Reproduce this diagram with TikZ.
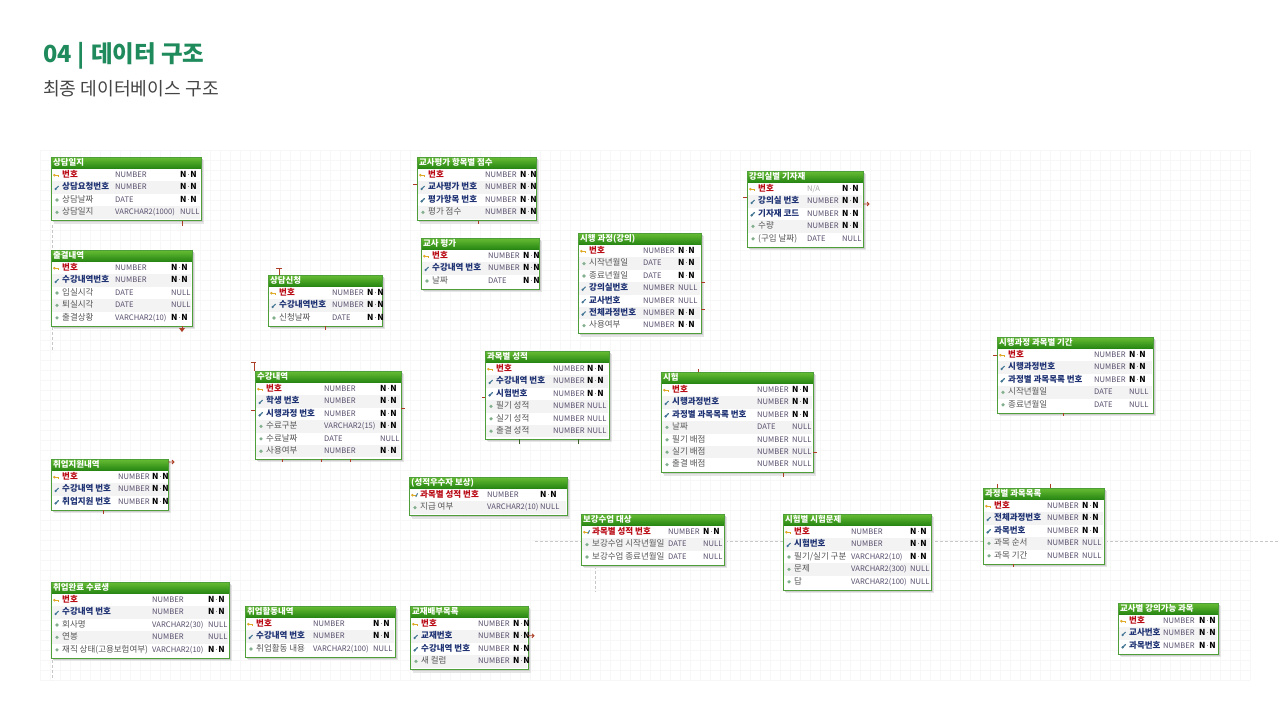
\documentclass[tikz,border=0pt]{standalone}
\usepackage{fontspec}
\setmainfont{Noto Sans CJK KR}
\definecolor{ttlgreen}{RGB}{31,138,92}
\definecolor{subgray}{RGB}{68,68,68}
\definecolor{hdrA}{RGB}{104,190,52}
\definecolor{hdrB}{RGB}{40,135,20}
\definecolor{tabgreen}{RGB}{78,158,58}
\definecolor{rowalt}{RGB}{243,243,243}
\definecolor{pkred}{RGB}{185,10,20}
\definecolor{fkblue}{RGB}{30,50,115}
\definecolor{atgray}{RGB}{85,85,85}
\definecolor{typec}{RGB}{88,78,108}
\definecolor{keygold}{RGB}{222,170,40}
\definecolor{cfk}{RGB}{70,120,150}
\definecolor{cat}{RGB}{130,175,140}
\definecolor{relred}{RGB}{172,62,40}
\definecolor{reldark}{RGB}{60,100,40}
\newcommand\erNN{{\color{black}\fontsize{8.3}{9}\selectfont\bfseries N{\mdseries\fontsize{7}{9}\selectfont·}N}}
\newcommand\ertab[8]{%
  \def\erName{#1}\def\erX{#2}\def\erY{#3}\def\erW{#4}\def\erT{#6}\def\erN{#7}%
  \pgfmathsetmacro\erH{14+12.4*#5}%
  \fill[black!10] ({#2+3},{#3+3}) rectangle ++(#4,\erH);
  \fill[black!20] ({#2+1.5},{#3+1.5}) rectangle ++(#4,\erH);
  \node[tabbox, minimum width=#4pt, minimum height=\erH pt, anchor=north west] (#1) at (#2,#3) {};
  \shade[top color=hdrA, bottom color=hdrB] (#2,#3) rectangle ++(#4,11);
  \draw[tabborder] (#1.north west) rectangle (#1.south east);
  \node[tabtitle, anchor=west] (#1-title) at ({#2+2},{#3+5.6}) {#8};
}
\newcommand\errow[5]{%
  \pgfmathsetmacro\erRy{\erY+12+12.4*#1+6.2}%
  \ifodd#1 \fill[rowalt] ({\erX+1},{\erRy-6.2}) rectangle ({\erX+\erW-1},{\erRy+6.2});\fi
  \pic at ({\erX+6},\erRy) {#2icon};
  \node[#2name, anchor=west] (\erName-#1) at ({\erX+11},\erRy) {#3};
  \node[typetxt, anchor=west] (\erName-#1t) at ({\erX+\erT},\erRy) {#4};
  \node[typetxt, anchor=west] (\erName-#1n) at ({\erX+\erN},\erRy) {#5};
}
\tikzset{
  tabbox/.style={fill=white, inner sep=0pt, outer sep=0pt},
  tabborder/.style={draw=tabgreen, line width=0.9pt},
  tabtitle/.style={text=white, font=\fontsize{8.4}{9}\selectfont\bfseries, inner sep=0pt},
  rowtxt/.style={inner sep=0pt, text height=6pt, text depth=1.6pt},
  pkname/.style={rowtxt, text=pkred, font=\fontsize{8.5}{9}\selectfont\bfseries},
  pfname/.style={rowtxt, text=pkred, font=\fontsize{8.5}{9}\selectfont\bfseries},
  fkname/.style={rowtxt, text=fkblue, font=\fontsize{8.5}{9}\selectfont\bfseries},
  atname/.style={rowtxt, text=atgray, font=\fontsize{8.5}{9}\selectfont},
  typetxt/.style={rowtxt, text=typec, font=\fontsize{7.6}{9}\selectfont},
  pkicon/.pic={\fill[keygold] (-3,-0.6) rectangle (2.2,0.6); \fill[keygold] (-2.6,0) circle (1.4); \fill[keygold] (1,0.6) rectangle (2.2,1.8);},
  pficon/.pic={\fill[keygold] (-3,-0.6) rectangle (1.5,0.6); \fill[keygold] (-2.6,0) circle (1.4); \draw[cfk, line width=1pt] (0.8,1.6) -- (2.6,-1.8);},
  fkicon/.pic={\draw[cfk, line width=1.1pt, line cap=round] (-1.6,1.6) -- (1.4,-1.4); \fill[cfk] (-1.4,1.4) circle (1.3);},
  aticon/.pic={\fill[cat] (0,0) circle (1.8);},
  stub/.style={draw=relred, line width=0.8pt},
  gstub/.style={draw=reldark, line width=1pt},
  guide/.style={draw=black!22, line width=0.5pt, dash pattern=on 3pt off 2pt},
}
\begin{document}
\begin{tikzpicture}[x=1pt,y=-1pt]
\useasboundingbox (0,0) rectangle (1280,720);
\fill[white] (0,0) rectangle (1280,720);
\draw[black!3, line width=0.3pt, step=10pt] (40,150) grid (1250,680);
\draw[guide] (535,541) -- (1280,541);
\draw[guide] (595,541) -- (595,592);
\draw[guide] (52,225) -- (52,248);
\draw[guide] (52,322) -- (52,352);
\draw[guide] (52,640) -- (52,680);

\node[anchor=west, inner sep=0pt, text=ttlgreen, font=\fontsize{23.5}{26}\selectfont\bfseries] (title) at (43,56) {04\hspace{6pt}|\hspace{6pt}데이터 구조};
\node[anchor=west, inner sep=0pt, text=subgray, font=\fontsize{18.2}{20}\selectfont] (subtitle) at (43,89) {최종 데이터베이스 구조};

% 상담일지
\ertab{t01}{51}{157}{150}{4}{64}{129}{상담일지}
\errow{0}{pk}{번호}{NUMBER}{\erNN}
\errow{1}{fk}{상담요청번호}{NUMBER}{\erNN}
\errow{2}{at}{상담날짜}{DATE}{\erNN}
\errow{3}{at}{상담일지}{VARCHAR2(1000)}{NULL}
% 출결내역
\ertab{t02}{51}{250}{141}{5}{64}{120}{출결내역}
\errow{0}{pk}{번호}{NUMBER}{\erNN}
\errow{1}{fk}{수강내역번호}{NUMBER}{\erNN}
\errow{2}{at}{입실시각}{DATE}{NULL}
\errow{3}{at}{퇴실시각}{DATE}{NULL}
\errow{4}{at}{출결상황}{VARCHAR2(10)}{\erNN}
% 상담신청
\ertab{t03}{268}{275}{114}{3}{64}{99}{상담신청}
\errow{0}{pk}{번호}{NUMBER}{\erNN}
\errow{1}{fk}{수강내역번호}{NUMBER}{\erNN}
\errow{2}{at}{신청날짜}{DATE}{\erNN}
% 수강내역
\ertab{t04}{255}{371}{146}{6}{69}{125}{수강내역}
\errow{0}{pk}{번호}{NUMBER}{\erNN}
\errow{1}{fk}{학생 번호}{NUMBER}{\erNN}
\errow{2}{fk}{시행과정 번호}{NUMBER}{\erNN}
\errow{3}{at}{수료구분}{VARCHAR2(15)}{\erNN}
\errow{4}{at}{수료날짜}{DATE}{NULL}
\errow{5}{at}{사용여부}{NUMBER}{\erNN}
% 교사평가 항목별 점수
\ertab{t05}{417}{157}{119}{4}{68}{103}{교사평가 항목별 점수}
\errow{0}{pk}{번호}{NUMBER}{\erNN}
\errow{1}{fk}{교사평가 번호}{NUMBER}{\erNN}
\errow{2}{fk}{평가항목 번호}{NUMBER}{\erNN}
\errow{3}{at}{평가 점수}{NUMBER}{\erNN}
% 교사 평가
\ertab{t06}{421}{238}{118}{3}{67}{102}{교사 평가}
\errow{0}{pk}{번호}{NUMBER}{\erNN}
\errow{1}{fk}{수강내역 번호}{NUMBER}{\erNN}
\errow{2}{at}{날짜}{DATE}{\erNN}
% 시행 과정(강의)
\ertab{t07}{578}{233}{123}{7}{65}{100}{시행 과정(강의)}
\errow{0}{pk}{번호}{NUMBER}{\erNN}
\errow{1}{at}{시작년월일}{DATE}{\erNN}
\errow{2}{at}{종료년월일}{DATE}{\erNN}
\errow{3}{fk}{강의실번호}{NUMBER}{NULL}
\errow{4}{fk}{교사번호}{NUMBER}{NULL}
\errow{5}{fk}{전체과정번호}{NUMBER}{\erNN}
\errow{6}{at}{사용여부}{NUMBER}{\erNN}
% 강의실별 기자재
\ertab{t08}{747}{171}{116}{5}{60}{95}{강의실별 기자재}
\errow{0}{pk}{번호}{\color{black!35}N/A}{\erNN}
\errow{1}{fk}{강의실 번호}{NUMBER}{\erNN}
\errow{2}{fk}{기자재 코드}{NUMBER}{\erNN}
\errow{3}{at}{수량}{NUMBER}{\erNN}
\errow{4}{at}{(구입 날짜)}{DATE}{NULL}
% 과목별 성적
\ertab{t09}{485}{351}{124}{6}{68}{102}{과목별 성적}
\errow{0}{pk}{번호}{NUMBER}{\erNN}
\errow{1}{fk}{수강내역 번호}{NUMBER}{\erNN}
\errow{2}{fk}{시험번호}{NUMBER}{\erNN}
\errow{3}{at}{필기 성적}{NUMBER}{NULL}
\errow{4}{at}{실기 성적}{NUMBER}{NULL}
\errow{5}{at}{출결 성적}{NUMBER}{NULL}
% 시험
\ertab{t10}{661}{372}{152}{7}{96}{131}{시험}
\errow{0}{pk}{번호}{NUMBER}{\erNN}
\errow{1}{fk}{시행과정번호}{NUMBER}{\erNN}
\errow{2}{fk}{과정별 과목목록 번호}{NUMBER}{\erNN}
\errow{3}{at}{날짜}{DATE}{NULL}
\errow{4}{at}{필기 배점}{NUMBER}{NULL}
\errow{5}{at}{실기 배점}{NUMBER}{NULL}
\errow{6}{at}{출결 배점}{NUMBER}{NULL}
% 시행과정 과목별 기간
\ertab{t11}{997}{337}{156}{5}{97}{132}{시행과정 과목별 기간}
\errow{0}{pk}{번호}{NUMBER}{\erNN}
\errow{1}{fk}{시행과정번호}{NUMBER}{\erNN}
\errow{2}{fk}{과정별 과목목록 번호}{NUMBER}{\erNN}
\errow{3}{at}{시작년월일}{DATE}{NULL}
\errow{4}{at}{종료년월일}{DATE}{NULL}
% 취업지원내역
\ertab{t12}{51}{459}{117}{3}{67}{101}{취업지원내역}
\errow{0}{pk}{번호}{NUMBER}{\erNN}
\errow{1}{fk}{수강내역 번호}{NUMBER}{\erNN}
\errow{2}{fk}{취업지원 번호}{NUMBER}{\erNN}
% (성적우수자 보상)
\ertab{t13}{409}{477}{158}{2}{78}{131}{(성적우수자 보상)}
\errow{0}{pf}{과목별 성적 번호}{NUMBER}{\erNN}
\errow{1}{at}{지급 여부}{VARCHAR2(10)}{NULL}
% 보강수업 대상
\ertab{t14}{581}{514}{143}{3}{87}{122}{보강수업 대상}
\errow{0}{pf}{과목별 성적 번호}{NUMBER}{\erNN}
\errow{1}{at}{보강수업 시작년월일}{DATE}{NULL}
\errow{2}{at}{보강수업 종료년월일}{DATE}{NULL}
% 시험별 시험문제
\ertab{t15}{783}{514}{148}{5}{68}{127}{시험별 시험문제}
\errow{0}{pk}{번호}{NUMBER}{\erNN}
\errow{1}{fk}{시험번호}{NUMBER}{\erNN}
\errow{2}{at}{필기/실기 구분}{VARCHAR2(10)}{\erNN}
\errow{3}{at}{문제}{VARCHAR2(300)}{NULL}
\errow{4}{at}{답}{VARCHAR2(100)}{NULL}
% 과정별 과목목록
\ertab{t16}{983}{488}{121}{5}{64}{99}{과정별 과목목록}
\errow{0}{pk}{번호}{NUMBER}{\erNN}
\errow{1}{fk}{전체과정번호}{NUMBER}{\erNN}
\errow{2}{fk}{과목번호}{NUMBER}{\erNN}
\errow{3}{at}{과목 순서}{NUMBER}{NULL}
\errow{4}{at}{과목 기간}{NUMBER}{NULL}
% 취업완료 수료생
\ertab{t17}{51}{582}{178}{5}{101}{157}{취업완료 수료생}
\errow{0}{pk}{번호}{NUMBER}{\erNN}
\errow{1}{fk}{수강내역 번호}{NUMBER}{\erNN}
\errow{2}{at}{회사명}{VARCHAR2(30)}{NULL}
\errow{3}{at}{연봉}{NUMBER}{NULL}
\errow{4}{at}{재직 상태(고용보험여부)}{VARCHAR2(10)}{\erNN}
% 취업활동내역
\ertab{t18}{245}{606}{150}{3}{68}{128}{취업활동내역}
\errow{0}{pk}{번호}{NUMBER}{\erNN}
\errow{1}{fk}{수강내역 번호}{NUMBER}{\erNN}
\errow{2}{at}{취업활동 내용}{VARCHAR2(100)}{NULL}
% 교재배부목록
\ertab{t19}{410}{606}{118}{4}{68}{103}{교재배부목록}
\errow{0}{pk}{번호}{NUMBER}{\erNN}
\errow{1}{fk}{교재번호}{NUMBER}{\erNN}
\errow{2}{fk}{수강내역 번호}{NUMBER}{\erNN}
\errow{3}{at}{새 컬럼}{NUMBER}{\erNN}
% 교사별 강의가능 과목
\ertab{t20}{1118}{603}{100}{3}{45}{81}{교사별 강의가능 과목}
\errow{0}{pk}{번호}{NUMBER}{\erNN}
\errow{1}{fk}{교사번호}{NUMBER}{\erNN}
\errow{2}{fk}{과목번호}{NUMBER}{\erNN}

% relationship stubs
\draw[stub] ([xshift=131pt]t01.south west) -- ++(0,5);
\draw[stub] ([xshift=131pt]t02.south west) -- ++(0,5);
\fill[relred] ([xshift=128pt,yshift=-2pt]t02.south west) -- ++(6,0) -- ++(-3,4) -- cycle;
\draw[stub] ([xshift=11pt]t03.north west) -- ++(0,-7) ++(-3,0) -- ++(6,0);
\draw[stub] ([xshift=57pt]t03.south west) -- ++(0,4);
\draw[stub] ([xshift=-1pt]t04.north west) -- ++(0,-9) ++(-3,0) -- ++(5,0);
\draw[stub] ([yshift=7pt]t04.east) -- ++(4,0);
\draw[stub] ([yshift=5pt]t04.west) -- ++(-4,0);
\draw[stub] ([xshift=27pt]t04.south west) -- ++(0,3);
\draw[stub] ([xshift=66pt]t04.south west) -- ++(0,3);
\draw[stub] ([xshift=95pt]t04.south west) -- ++(0,3);
\draw[stub] ([yshift=4pt]t05.west) -- ++(-4,0);
\draw[stub] ([xshift=61pt]t05.south west) -- ++(0,3);
\draw[stub] ([yshift=-3pt]t12.north east) -- ++(6,0) ++(-2,-2) -- ++(2,2) -- ++(-2,2);
\draw[stub] ([xshift=52pt]t12.south west) -- ++(0,4);
\draw[stub] ([yshift=12pt]t08.west) -- ++(-4,0);
\draw[stub] ([yshift=5pt]t08.east) -- ++(6,0) ++(-2,-2) -- ++(2,2) -- ++(-2,2);
\draw[stub] ([yshift=1pt]t07.east) -- ++(4,0);
\draw[stub] ([yshift=-26pt]t07.east) -- ++(4,0);
\draw[stub] ([xshift=37pt]t10.north west) -- ++(0,-3);
\draw[stub] ([yshift=-30pt]t10.east) -- ++(4,0);
\draw[stub] ([xshift=122pt]t10.south west) -- ++(0,4);
\draw[stub] ([yshift=2pt]t19.east) -- ++(6,0) ++(-2,-2) -- ++(2,2) -- ++(-2,2);
\draw[stub] ([xshift=14pt]t16.north west) -- ++(0,-4);
\draw[stub] ([xshift=67pt]t16.north west) -- ++(0,-4);
\draw[stub] ([xshift=30pt]t16.south west) -- ++(0,3);
\draw[stub] ([yshift=20pt]t11.west) -- ++(-4,0);
\draw[stub] ([xshift=66pt]t11.south west) -- ++(0,3);
\draw[stub] ([yshift=-2pt]t09.west) -- ++(-3,0);
\draw[gstub] ([xshift=34pt]t09.south west) -- ++(0,5);
\draw[gstub] ([xshift=93pt]t09.south west) -- ++(0,5);
\end{tikzpicture}
\end{document}
